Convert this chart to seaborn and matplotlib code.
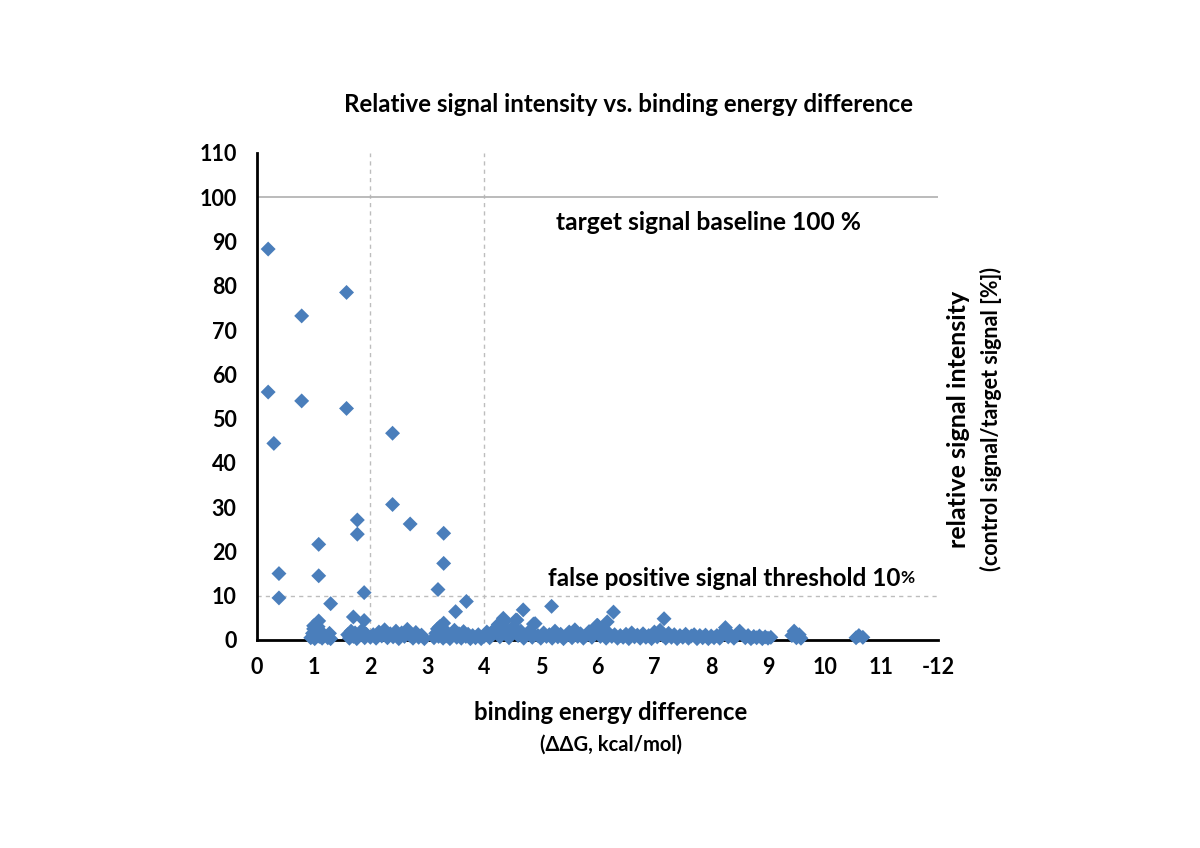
import matplotlib
matplotlib.use("Agg")
import matplotlib.pyplot as plt
import seaborn as sns
import pandas as pd

# ---------------- data ----------------
high_x = [0.20, 1.58, 0.79, 0.20, 0.79, 1.58, 2.39, 0.30, 2.39, 1.77, 2.70, 1.77, 3.29,
          1.09, 3.29, 0.39, 1.09, 3.19, 1.89, 0.39, 3.69, 1.30, 3.50, 4.69, 5.19, 1.70,
          1.89, 1.09, 3.29, 4.87, 4.34, 4.58, 6.28, 6.17, 5.99, 7.17, 8.25]
high_y = [88.3, 78.5, 73.2, 56.0, 54.0, 52.3, 46.7, 44.4, 30.6, 27.1, 26.2, 23.9, 24.1,
          21.6, 17.3, 15.0, 14.5, 11.4, 10.7, 9.5, 8.7, 8.2, 6.4, 6.8, 7.6, 5.2,
          4.4, 4.3, 3.8, 3.6, 4.9, 4.5, 6.3, 4.1, 3.3, 4.8, 2.8]

low_x = [0.95, 0.98, 1.00, 1.02, 1.05, 1.08, 1.10, 1.12, 1.15, 1.00,
         1.25, 1.28, 1.30,
         1.60, 1.63, 1.66, 1.70, 1.73, 1.76, 1.80, 1.85, 1.90, 1.93,
         2.00, 2.05, 2.10, 2.15, 2.20, 2.25, 2.30, 2.35, 2.40, 2.45, 2.50, 2.55, 2.60,
         2.65, 2.70, 2.75, 2.80, 2.85, 2.90, 2.95,
         3.12, 3.15, 3.18, 3.20, 3.22, 3.25, 3.28, 3.30, 3.33, 3.36, 3.40, 3.44, 3.48,
         3.52, 3.56, 3.60, 3.64, 3.68, 3.72, 3.76, 3.80, 3.85, 3.90, 3.95, 4.00, 4.05,
         4.10, 4.15, 4.20, 4.25, 4.28, 4.32, 4.36, 4.40, 4.44, 4.48, 4.52, 4.56, 4.60,
         4.65, 4.70, 4.75, 4.80, 4.85, 4.90, 4.95, 5.00, 5.05, 5.10, 5.15, 5.20, 5.25,
         5.30, 5.35, 5.40, 5.45, 5.50, 5.55, 5.60, 5.65, 5.70, 5.75, 5.80, 5.85, 5.90,
         5.95, 6.00, 6.05, 6.10, 6.15, 6.20, 6.25, 6.30, 6.35, 6.40, 6.45, 6.50, 6.55,
         6.60, 6.65, 6.70, 6.75, 6.80, 6.85, 6.90, 6.95, 7.00, 7.05, 7.10, 7.15, 7.20,
         7.25, 7.30, 7.35, 7.40, 7.45, 7.50, 7.55, 7.60, 7.65, 7.70, 7.75, 7.80, 7.85,
         7.90, 7.95, 8.00, 8.05, 8.10, 8.15, 8.20, 8.30, 8.35, 8.40, 8.45, 8.50, 8.55,
         8.60, 8.65, 8.70, 8.75, 8.80, 8.85, 8.90, 8.95, 9.00, 9.05,
         9.42, 9.46, 9.50, 9.55, 9.58,
         10.55, 10.60, 10.67]
low_y = [0.5, 1.5, 2.5, 0.3, 1.0, 3.0, 0.8, 2.0, 0.4, 3.2,
         0.5, 1.5, 0.3,
         1.2, 0.4, 2.0, 0.8, 1.6, 0.3, 1.0, 2.2, 0.5, 1.3,
         0.6, 1.2, 0.4, 1.8, 0.9, 2.3, 0.5, 1.4, 0.7, 2.0, 0.3, 1.6, 0.8,
         2.4, 1.0, 0.4, 1.7, 0.6, 1.1, 0.3,
         0.5, 1.5, 2.5, 0.8, 3.0, 1.2, 0.4, 2.0, 0.9, 1.6, 0.3, 1.1, 2.2,
         0.6, 1.4, 0.4, 1.9, 0.8, 1.3, 0.3, 1.0, 0.5, 1.2, 0.3, 0.8, 1.8,
         0.5, 1.2, 2.6, 3.5, 0.7, 1.5, 4.2, 2.3, 0.5, 1.4, 3.0, 4.5, 1.0,
         2.0, 0.4, 1.3, 2.0, 0.6, 3.7, 1.0, 0.4, 1.6, 0.8, 1.2, 0.4, 2.0,
         0.7, 1.3, 0.3, 1.0, 1.8, 0.5, 2.3, 0.8, 1.4, 0.4, 1.1, 1.9, 0.6,
         1.3, 3.3, 0.8, 2.0, 0.4, 1.5, 0.8, 1.2, 0.4, 1.0, 0.6, 1.3, 0.3,
         1.6, 0.7, 1.1, 0.4, 1.4, 0.6, 1.0, 0.3, 1.8, 0.7, 2.2, 1.0, 0.4,
         1.5, 0.6, 1.2, 0.3, 1.0, 0.6, 1.3, 0.4, 0.9, 1.2, 0.3, 1.0, 0.5,
         1.1, 0.3, 0.9, 0.5, 1.0, 0.4, 1.6, 0.7, 1.1, 0.4, 1.0, 2.0, 1.2,
         0.5, 1.0, 0.3, 0.8, 0.5, 0.9, 0.3, 0.7, 0.4, 0.6,
         1.0, 2.0, 0.5, 1.2, 0.4,
         0.5, 1.0, 0.6]

x_ticks = [0, 1, 2, 3, 4, 5, 6, 7, 8, 9, 10, 11, 12]
x_tick_labels = ["0", "1", "2", "3", "4", "5", "6", "7", "8", "9", "10", "11", "-12"]
y_ticks = [0, 10, 20, 30, 40, 50, 60, 70, 80, 90, 100, 110]

df = pd.DataFrame({"ddG": high_x + low_x, "signal": high_y + low_y})

# ---------------- style ----------------
sns.set_theme(style="white")
FONT = ["Lato", "DejaVu Sans"]
plt.rcParams["font.family"] = FONT
plt.rcParams["font.weight"] = "bold"
plt.rcParams["text.color"] = "black"
plt.rcParams["axes.labelcolor"] = "black"
plt.rcParams["xtick.color"] = "black"
plt.rcParams["ytick.color"] = "black"

fig = plt.figure(figsize=(12, 8.48), dpi=100)
ax = fig.add_axes([0.214, 0.2453, 0.568, 0.5743])

blue = "#4A7EBB"
grid_c = "#bdbdbd"

# reference lines
for gx in [2, 4]:
    ax.axvline(gx, color=grid_c, lw=1.0, ls=(0, (3, 3)), zorder=0)
ax.axhline(100, color="#b5b5b5", lw=1.3, zorder=0)
ax.axhline(10, color=grid_c, lw=1.0, ls=(0, (3, 3)), zorder=0)

sns.scatterplot(data=df, x="ddG", y="signal", ax=ax, marker="D", s=58,
                color=blue, edgecolor="none", linewidth=0, clip_on=False, zorder=3)

ax.set_xlim(0, 12)
ax.set_ylim(0, 110)
ax.set_xticks(x_ticks)
ax.set_xticklabels(x_tick_labels)
ax.set_yticks(y_ticks)
ax.set_xlabel("")
ax.set_ylabel("")

for side in ["top", "right"]:
    ax.spines[side].set_visible(False)
for side in ["left", "bottom"]:
    ax.spines[side].set_color("black")
    ax.spines[side].set_linewidth(2)
    ax.spines[side].set_zorder(2)
ax.tick_params(axis="both", direction="out", width=1.8, color="black",
               labelcolor="black", labelsize=15.5)
ax.tick_params(axis="y", length=9.5, pad=5)
ax.tick_params(axis="x", length=6.5, pad=6)
for lab in ax.get_xticklabels() + ax.get_yticklabels():
    lab.set_fontweight("bold")

# annotations
ax.text(5.27, 94.4, "target signal baseline 100 %", fontsize=17.7, fontweight="bold",
        ha="left", va="center", color="black")
t = ax.text(5.13, 14.0, "false positive signal threshold 10", fontsize=17.5,
            fontweight="bold", ha="left", va="center", color="black")
ax.annotate("%", xy=(1, 0), xycoords=t, xytext=(0, 2.5), textcoords="offset points",
            fontsize=12.5, fontweight="bold", ha="left", va="bottom", color="black")

# titles / labels
fig.text(629 / 1200, 1 - 105 / 848, "Relative signal intensity vs. binding energy difference",
         fontsize=17.4, fontweight="bold", ha="center", va="center", color="black")
fig.text(611 / 1200, 1 - 713 / 848, "binding energy difference",
         fontsize=17.2, fontweight="bold", ha="center", va="center", color="black")
fig.text(611 / 1200, 1 - 745 / 848, "(\u0394\u0394G, kcal/mol)",
         fontsize=14.5, fontweight="bold", ha="center", va="center", color="black")
fig.text(958 / 1200, 1 - 419 / 848, "relative signal intensity",
         fontsize=18, fontweight="bold", ha="center", va="center", rotation=90,
         color="black")
fig.text(991 / 1200, 1 - 419 / 848, "(control signal/target signal [%])",
         fontsize=15.5, fontweight="bold", ha="center", va="center", rotation=90,
         color="black")

fig.savefig("out.png", dpi=100, facecolor="white")
